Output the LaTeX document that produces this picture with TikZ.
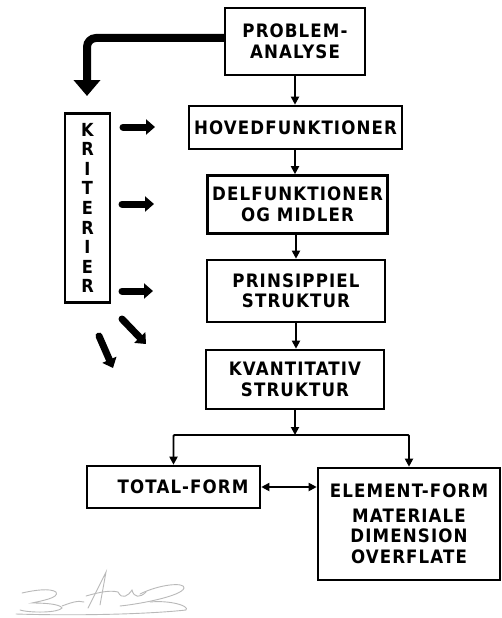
\documentclass[tikz,border=0pt]{standalone}
\usepackage{fontspec}
\newfontfamily\hand{DejaVu Sans}[LetterSpace=6,FakeStretch=0.9]
\usetikzlibrary{arrows.meta}
\begin{document}
\begin{tikzpicture}[x=1pt,y=-1pt,
  box/.style={draw, line width=2.6pt, inner sep=0pt, align=center,
    font=\hand\bfseries\fontsize{18.5}{20.5}\selectfont},
  conn/.style={line width=1.8pt, -{Triangle[width=8pt,length=8pt]}},
  dconn/.style={line width=1.8pt, {Triangle[width=8pt,length=8pt]}-{Triangle[width=8pt,length=8pt]}},
  fat/.style={line width=7pt, line cap=round, -{Triangle[width=15pt,length=9pt]}},
  sig/.style={line width=0.9pt, gray!55, line cap=round}]
\useasboundingbox (0,0) rectangle (501,618);
\fill[white] (0,0) rectangle (501,618);

\node[box, minimum width=140pt, minimum height=67pt] (prob) at (295,41.5) {PROBLEM-\\ANALYSE};
\node[box, minimum width=213pt, minimum height=43pt] (hoved) at (295.5,127.5) {HOVEDFUNKTIONER};
\node[box, minimum width=180pt, minimum height=58pt] (del) at (297.5,204.5) {DELFUNKTIONER\\OG MIDLER};
\node[box, minimum width=178pt, minimum height=62pt] (prin) at (296,291) {PRINSIPPIEL\\STRUKTUR};
\node[box, minimum width=178pt, minimum height=59pt] (kvan) at (295,379.5) {KVANTITATIV\\STRUKTUR};
\node[box, minimum width=173pt, minimum height=42pt, text width=150pt, align=right] (total) at (173.5,487) {TOTAL-FORM};
\node[box, minimum width=182pt, minimum height=112pt] (elem) at (409,524) {ELEMENT-FORM\\[4pt]MATERIALE\\DIMENSION\\OVERFLATE};
\node[box, minimum width=45pt, minimum height=189pt,
  font=\hand\bfseries\fontsize{18}{19.6}\selectfont] (krit) at (87.5,208) {K\\R\\I\\T\\E\\R\\I\\E\\R};

% vertical chain
\draw[conn] (prob.south) -- (prob.south |- hoved.north);
\draw[conn] (hoved.south -| prob.south) -- (prob.south |- del.north);
\draw[conn] (del.south -| prin.north) -- (prin.north);
\draw[conn] (prin.south) -- (prin.south |- kvan.north);

% branching
\coordinate (br) at (295,435);
\draw[conn] (kvan.south) -- (br);
\draw[conn, rounded corners=1pt] (br) -| (total.north);
\draw[conn, rounded corners=1pt] (br) -| (elem.north);
\draw[dconn] (total.east) -- (total.east -| elem.west);

% big thick arrow
\coordinate (bigstart) at (225,38);
\coordinate (bigend) at (87,96);
\draw[line width=8pt, rounded corners=9pt, -{Triangle[width=26pt,length=16pt]}] (bigstart) -| (bigend);

% criteria arrows
\coordinate (a1s) at (123,127); \coordinate (a1e) at (155,127);
\coordinate (a2s) at (122,204); \coordinate (a2e) at (154,204);
\coordinate (a3s) at (122,291); \coordinate (a3e) at (153,291);
\coordinate (a4s) at (122,319); \coordinate (a4e) at (146,344);
\coordinate (a5s) at (99,336); \coordinate (a5e) at (113,368);
\draw[fat] (a1s) -- (a1e);
\draw[fat] (a2s) -- (a2e);
\draw[fat] (a3s) -- (a3e);
\draw[fat] (a4s) -- (a4e);
\draw[fat] (a5s) -- (a5e);

% signature
\draw[sig] (22,593) .. controls (35,590) and (50,588) .. (56,592) .. controls (60,598) and (40,601) .. (32,603)
  .. controls (45,603) and (60,604) .. (62,608) .. controls (58,613) and (30,613) .. (20,610);
\draw[sig] (62,606) .. controls (70,603) and (78,600) .. (84,602);
\draw[sig] (88,608) -- (106,572) -- (100,605);
\draw[sig] (86,596) .. controls (100,592) and (110,590) .. (118,592) .. controls (122,600) and (128,596) .. (132,590)
  .. controls (134,598) and (140,598) .. (146,592);
\draw[sig] (140,594) .. controls (160,584) and (185,582) .. (184,588) .. controls (182,596) and (140,604) .. (120,606);
\draw[sig] (16,614) .. controls (80,616) and (150,614) .. (186,610) .. controls (190,606) and (170,600) .. (150,602);
\end{tikzpicture}
\end{document}
